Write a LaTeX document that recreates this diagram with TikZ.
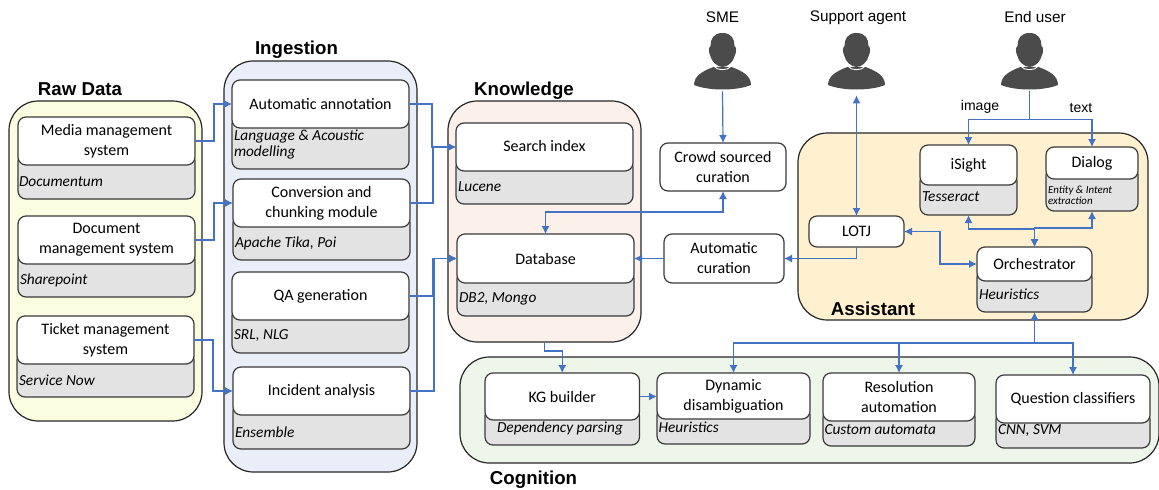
\documentclass[tikz,border=0pt]{standalone}
\usepackage{fontspec}
\setmainfont{Carlito}
\newfontfamily\arialf{Liberation Sans}
\usetikzlibrary{arrows.meta}
\definecolor{linkblue}{HTML}{4472C4}
\definecolor{edgedark}{HTML}{3A3A3A}
\definecolor{subgrey}{HTML}{E3E3E3}
\definecolor{rawfill}{HTML}{FBFDE0}
\definecolor{ingfill}{HTML}{E9EEF8}
\definecolor{knofill}{HTML}{FBF0EA}
\definecolor{assfill}{HTML}{FFF1CF}
\definecolor{cogfill}{HTML}{EEF6EA}
\definecolor{personc}{HTML}{4B4B4B}
\tikzset{
  x=0.75pt,y=-0.75pt,
  base/.style={inner sep=0pt,outer sep=0pt},
  groupbox/.style={base,draw=black!85,line width=0.9pt,rounded corners=22pt},
  whitebox/.style={base,draw=edgedark,line width=0.9pt,fill=white,rounded corners=6pt,align=center,font=\fontsize{12}{15}\selectfont},
  greybox/.style={base,draw=edgedark,line width=0.9pt,fill=subgrey,rounded corners=6pt},
  subtext/.style={base,anchor=west,align=left,font=\fontsize{11.5}{12}\selectfont\itshape},
  heading/.style={base,font=\arialf\bfseries\fontsize{14}{16}\selectfont},
  plaintext/.style={base,font=\arialf\fontsize{11.5}{14}\selectfont},
  smalltext/.style={base,font=\arialf\fontsize{10.5}{12}\selectfont},
  link/.style={draw=linkblue,line width=0.9pt,-{Latex[length=6pt,width=6pt]}},
  duallink/.style={draw=linkblue,line width=0.9pt,{Latex[length=6pt,width=6pt]}-{Latex[length=6pt,width=6pt]}},
  plainlink/.style={draw=linkblue,line width=0.9pt},
}
% name, xl, xr, ytop, ymid, ybottom, label
\newcommand\twobox[7]{%
  \pgfmathsetmacro\cxx{(#2+#3)/2}%
  \pgfmathsetmacro\wdd{(#3-#2)*0.75}%
  \pgfmathsetmacro\gyy{(#5-12+#6)/2}%
  \pgfmathsetmacro\ghh{(#6-#5+12)*0.75}%
  \pgfmathsetmacro\wyy{(#4+#5)/2}%
  \pgfmathsetmacro\whh{(#5-#4)*0.75}%
  \node[greybox,minimum width=\wdd pt,minimum height=\ghh pt] (#1g) at (\cxx,\gyy) {};
  \node[whitebox,minimum width=\wdd pt,minimum height=\whh pt] (#1w) at (\cxx,\wyy) {#7};
}
% name, xl, xr, ytop, ybottom, label
\newcommand\onebox[6]{%
  \pgfmathsetmacro\cxx{(#2+#3)/2}%
  \pgfmathsetmacro\wdd{(#3-#2)*0.75}%
  \pgfmathsetmacro\wyy{(#4+#5)/2}%
  \pgfmathsetmacro\whh{(#5-#4)*0.75}%
  \node[whitebox,minimum width=\wdd pt,minimum height=\whh pt] (#1) at (\cxx,\wyy) {#6};
}
% name, xl, xr, ytop, ybottom, fill
\newcommand\container[6]{%
  \pgfmathsetmacro\cxx{(#2+#3)/2}%
  \pgfmathsetmacro\wdd{(#3-#2)*0.75}%
  \pgfmathsetmacro\wyy{(#4+#5)/2}%
  \pgfmathsetmacro\whh{(#5-#4)*0.75}%
  \node[groupbox,fill=#6,minimum width=\wdd pt,minimum height=\whh pt] (#1) at (\cxx,\wyy) {};
}
% name, centre x
\newcommand\person[2]{%
  \begin{scope}[shift={(#2,0)}]
    \fill[personc] (-28.5,85) .. controls (-28.5,76) and (-20,71) .. (-9,67)
      -- (9,67) .. controls (20,71) and (28.5,76) .. (28.5,85)
      .. controls (14,91) and (-14,91) .. (-28.5,85) -- cycle;
    \draw[white,line width=0.7pt] (-9,66) .. controls (-5,71) and (5,71) .. (9,66);
    \fill[personc] (0,33) .. controls (9,33) and (12,39) .. (12,46)
      .. controls (14,47) and (14,52) .. (12.5,55)
      .. controls (11,62) and (5,67) .. (0,67)
      .. controls (-5,67) and (-11,62) .. (-12.5,55)
      .. controls (-14,52) and (-14,47) .. (-12,46)
      .. controls (-12,39) and (-9,33) .. (0,33) -- cycle;
    \node[base,minimum width=43pt,minimum height=44pt] (#1) at (0,62) {};
  \end{scope}
}
\begin{document}
\begin{tikzpicture}
\useasboundingbox (0,0) rectangle (1159,489);
\fill[white] (0,0) rectangle (1159,489);

\container{raw}{9}{202}{101}{421}{rawfill}
\container{ing}{224}{417}{61}{472}{ingfill}
\container{kno}{448}{641}{101}{342}{knofill}
\container{ass}{798}{1148}{133}{320}{assfill}
\container{cog}{460}{1159}{357}{463}{cogfill}

\node[heading] (rawt) at (80,89.5) {Raw Data};
\node[heading] (ingt) at (296.5,49.5) {Ingestion};
\node[heading] (knot) at (524,91) {Knowledge};
\node[heading] (asst) at (873,309) {Assistant};
\node[heading] (cogt) at (533.5,479.5) {Cognition};

\twobox{media}{18}{195}{117}{165}{199}{\raisebox{-1.2pt}{Media management}\\\raisebox{-1.2pt}{system}}
\node[subtext] (medias) at (19,182) {Documentum};
\twobox{doc}{18}{195}{216}{264}{297}{\raisebox{-1.2pt}{Document}\\\raisebox{-1.2pt}{management system}}
\node[subtext] (docs) at (20,280) {Sharepoint};
\twobox{ticket}{17}{194}{316}{364}{397}{\raisebox{-1.2pt}{Ticket management}\\\raisebox{-1.2pt}{system}}
\node[subtext] (tickets) at (19,380) {Service Now};

\twobox{auto}{232}{409}{80}{128}{169}{Automatic annotation}
\node[subtext] (autos) at (234,145) {Language \& Acoustic\\modelling};
\twobox{conv}{233}{410}{179}{227}{260}{\raisebox{-1.2pt}{Conversion and}\\\raisebox{-1.2pt}{chunking module}}
\node[subtext] (convs) at (235,243) {Apache Tika, Poi};
\twobox{qa}{232}{409}{272}{320}{353}{QA generation}
\node[subtext] (qas) at (234,336) {SRL, NLG};
\twobox{inc}{233}{410}{367}{415}{449}{Incident analysis}
\node[subtext] (incs) at (235,432) {Ensemble};

\twobox{search}{456}{633}{123}{171}{204}{\raisebox{1.2pt}{Search index}}
\node[subtext] (searchs) at (458,187) {Lucene};
\twobox{db}{457}{634}{234}{283}{316}{Database}
\node[subtext] (dbs) at (459,299) {DB2, Mongo};

\onebox{crowd}{660}{786}{143}{191}{Crowd sourced\\curation}
\onebox{autoc}{664}{784}{234}{283}{Automatic\\curation}

\twobox{isight}{920}{1017}{145}{185}{215}{iSight}
\node[subtext] (isights) at (922,197) {Tesseract};
\twobox{dialog}{1046}{1138}{147}{179}{211}{Dialog}
\node[subtext,font=\fontsize{8.2}{6}\selectfont\itshape] (dialogs) at (1048,195) {Entity \& Intent\\extraction};
\onebox{lotj}{809}{904}{216}{247}{LOTJ}
\twobox{orch}{977}{1092}{247}{281}{312}{Orchestrator}
\node[subtext] (orchs) at (979,294) {Heuristics};

\twobox{kg}{485}{639.5}{373}{420}{445}{KG builder}
\node[subtext] (kgs) at (497,428) {Dependency parsing};
\twobox{dyn}{657}{810}{373}{419}{444}{Dynamic\\disambiguation}
\node[subtext] (dyns) at (658.5,427) {Heuristics};
\twobox{res}{823}{975}{373}{421}{446}{Resolution\\automation}
\node[subtext] (ress) at (824.5,430) {Custom automata};
\twobox{que}{996}{1150}{375}{423}{448}{Question classifiers}
\node[subtext] (ques) at (998,430) {CNN, SVM};

\person{sme}{722.5}
\person{support}{856.5}
\person{enduser}{1029.5}
\node[plaintext] (smet) at (722.5,17.5) {SME};
\node[plaintext] (supportt) at (858,17.5) {Support agent};
\node[plaintext] (endt) at (1035,17.5) {End user};
\node[smalltext] (imaget) at (980,107) {image};
\node[smalltext] (textt) at (1081,108) {text};

\coordinate (bus) at (1034.5,343);

\draw[link] (mediaw.east) -- ++(19,0) |- (autow.west);
\draw[link] (docw.east) -- ++(19,0) |- (convw.west);
\draw[link] (ticketw.east) -- ++(19,0) |- (incw.west);
\draw[link] (autow.east) -- ++(23,0) |- (searchw.west);
\draw[link] (convw.east) -- ++(23,0) |- (searchw.west);
\draw[link] (qaw.east) -- ++(24,0) |- (dbw.west);
\draw[link] (incw.east) -- ++(24,0) |- (dbw.west);
\draw[link] (sme.south) -- (crowd.north);
\draw[duallink] (dbw.north) -- ++(0,-22) -| (crowd.south);
\draw[link] (autoc.west) -- (dbw.east);
\draw[link] (lotj.south) |- (autoc.east);
\draw[duallink,shorten >=3pt] (lotj.north) -- (lotj.north |- support.south);
\draw[duallink] (lotj.east) -- ++(36,0) |- (orchw.west);
\draw[link] (enduser.south) -- ++(0,28) -| (isightw.north);
\draw[link] (enduser.south) -- ++(0,28) -| (dialogw.north);
\draw[duallink] (isightg.south) -- ++(0,14) -| (orchw.north);
\draw[duallink] (dialogg.south) -- ++(0,17) -| (orchw.north);
\draw[link] (bus) -- (orchg.south);
\draw[link] (bus) -| (dynw.north);
\draw[link] (bus) -| (resw.north);
\draw[link] (bus) -| (quew.north);
\draw[link] (kno.south) -- ++(0,9) -| (kgw.north);
\draw[link] (kgw.east) -- (kgw.east -| dynw.west);
\end{tikzpicture}
\end{document}
